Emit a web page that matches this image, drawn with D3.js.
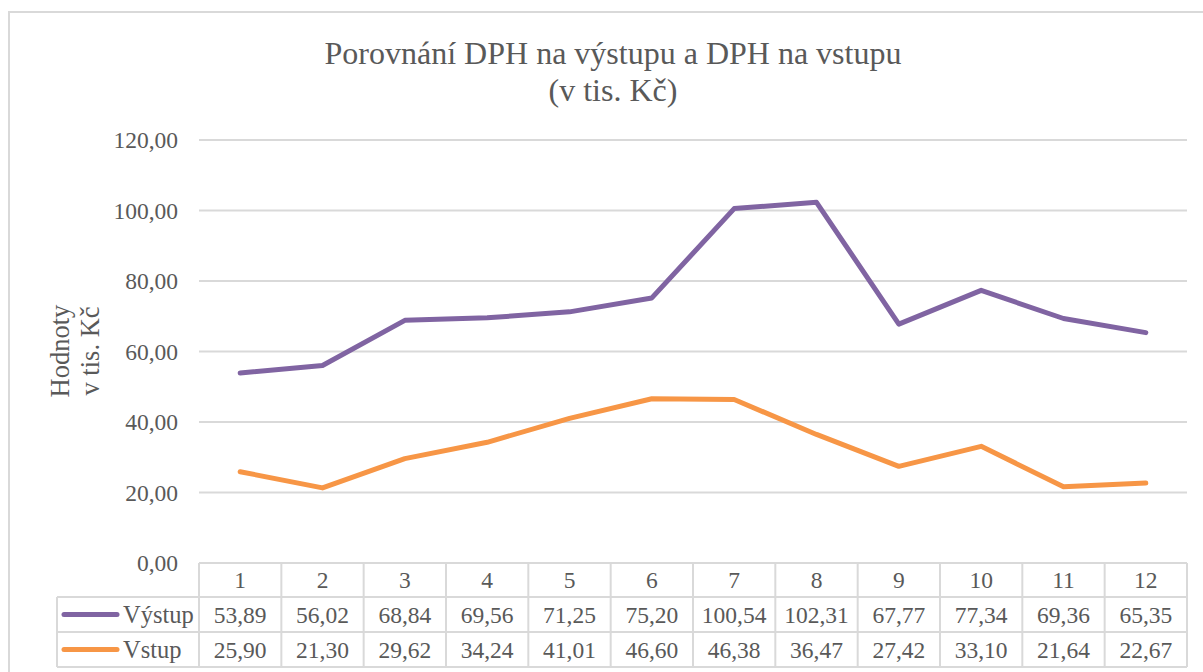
<!DOCTYPE html>
<html>
<head>
<meta charset="utf-8">
<script src="https://cdn.jsdelivr.net/npm/d3@7"></script>
<style>
  body { margin: 0; background: #fff; }
</style>
</head>
<body>
<div id="svg-container"></div>
<script>
// data
const months = ["1", "2", "3", "4", "5", "6", "7", "8", "9", "10", "11", "12"];
const vystup = [53.89, 56.02, 68.84, 69.56, 71.25, 75.20, 100.54, 102.31, 67.77, 77.34, 69.36, 65.35];
const vstup = [25.90, 21.30, 29.62, 34.24, 41.01, 46.60, 46.38, 36.47, 27.42, 33.10, 21.64, 22.67];
const yTicks = [0, 20, 40, 60, 80, 100, 120];

const series = [
    { name: "Výstup", values: vystup, color: "#8064A2" },
    { name: "Vstup", values: vstup, color: "#F79646" }
];

const width = 1203, height = 672;
const plot = { left: 199, right: 1187, top: 140, bottom: 563 };
const table = { legendLeft: 57, rowH: [34, 35, 35] };
const fmt = (v) => d3.format(".2f")(v).replace(".", ",");
const FONT = "'Liberation Serif'";
const TEXT_COLOR = "#595959";
const SMALL = "23.5px";

// small helper so every label gets the same serif font
const label = (sel, size) => sel
    .style("font-family", FONT)
    .style("font-size", size)
    .attr("fill", TEXT_COLOR);

const svg = d3.select("#svg-container").append("svg")
    .attr("width", width).attr("height", height);

// chart frame
svg.append("rect")
    .attr("x", 9).attr("y", 12)
    .attr("width", 1250).attr("height", 700)
    .attr("fill", "none").attr("stroke", "#d9d9d9").attr("stroke-width", 2);

// scales
const xScale = d3.scaleBand().domain(months).range([plot.left, plot.right]);
const yScale = d3.scaleLinear().domain([0, 120]).range([plot.bottom, plot.top]);

// gridlines
svg.append("g").selectAll("line")
    .data(yTicks.slice(1))
    .enter().append("line")
    .attr("x1", plot.left).attr("x2", plot.right)
    .attr("y1", (d) => yScale(d)).attr("y2", (d) => yScale(d))
    .attr("stroke", "#d9d9d9").attr("stroke-width", 2);

// y labels
svg.append("g").selectAll("text")
    .data(yTicks)
    .enter().append("text")
    .attr("x", 178)
    .attr("y", (d) => yScale(d))
    .attr("dy", "0.35em")
    .attr("text-anchor", "end")
    .call(label, SMALL)
    .text((d) => fmt(d));

// title
const title = svg.append("text")
    .attr("text-anchor", "middle")
    .call(label, "32px");
title.append("tspan").attr("x", 613).attr("y", 64).text("Porovnání DPH na výstupu a DPH na vstupu");
title.append("tspan").attr("x", 613).attr("y", 101).text("(v tis. Kč)");

// y axis title
const yTitle = svg.append("text")
    .attr("transform", "translate(0,351) rotate(-90)")
    .attr("text-anchor", "middle")
    .call(label, "26.5px");
yTitle.append("tspan").attr("x", 0).attr("y", 69).text("Hodnoty");
yTitle.append("tspan").attr("x", 0).attr("y", 99).text("v tis. Kč");

// lines
const line = d3.line()
    .x((d, i) => xScale(months[i]) + xScale.bandwidth() / 2)
    .y((d) => yScale(d));

svg.append("g").selectAll("path")
    .data(series)
    .enter().append("path")
    .attr("d", (d) => line(d.values))
    .attr("fill", "none")
    .attr("stroke", (d) => d.color)
    .attr("stroke-width", 5)
    .attr("stroke-linecap", "round")
    .attr("stroke-linejoin", "round");

// data table
const rowTop = [plot.bottom, plot.bottom + table.rowH[0], plot.bottom + table.rowH[0] + table.rowH[1]];
const tableBottom = rowTop[2] + table.rowH[2];
const grid = svg.append("g").attr("stroke", "#d9d9d9").attr("stroke-width", 2);

// horizontal rules
grid.append("line").attr("x1", plot.left).attr("x2", plot.right).attr("y1", rowTop[0]).attr("y2", rowTop[0]);
[rowTop[1], rowTop[2], tableBottom].forEach((y) => {
    grid.append("line").attr("x1", table.legendLeft).attr("x2", plot.right).attr("y1", y).attr("y2", y);
});
// vertical rules
grid.append("line").attr("x1", table.legendLeft).attr("x2", table.legendLeft).attr("y1", rowTop[1]).attr("y2", tableBottom);
months.forEach((m) => {
    grid.append("line").attr("x1", xScale(m)).attr("x2", xScale(m)).attr("y1", rowTop[0]).attr("y2", tableBottom);
});
grid.append("line").attr("x1", plot.right).attr("x2", plot.right).attr("y1", rowTop[0]).attr("y2", tableBottom);

// header row
svg.append("g").selectAll("text")
    .data(months)
    .enter().append("text")
    .attr("x", (d) => xScale(d) + xScale.bandwidth() / 2)
    .attr("y", (rowTop[0] + rowTop[1]) / 2)
    .attr("dy", "0.35em")
    .attr("text-anchor", "middle")
    .call(label, SMALL)
    .text((d) => d);

// series rows
series.forEach((s, r) => {
    const y0 = rowTop[r + 1], y1 = r === 0 ? rowTop[2] : tableBottom;
    const cy = (y0 + y1) / 2;
    const g = svg.append("g");
    g.append("line")
        .attr("x1", 64).attr("x2", 117)
        .attr("y1", cy).attr("y2", cy)
        .attr("stroke", s.color).attr("stroke-width", 5).attr("stroke-linecap", "round");
    g.append("text")
        .attr("x", 123).attr("y", cy).attr("dy", "0.35em")
        .call(label, "24.5px")
        .text(s.name);
    g.selectAll("text.val")
        .data(s.values)
        .enter().append("text")
        .attr("class", "val")
        .attr("x", (d, i) => xScale(months[i]) + xScale.bandwidth() / 2)
        .attr("y", cy)
        .attr("dy", "0.35em")
        .attr("text-anchor", "middle")
        .call(label, SMALL)
        .text((d) => fmt(d));
});
</script>
</body>
</html>
